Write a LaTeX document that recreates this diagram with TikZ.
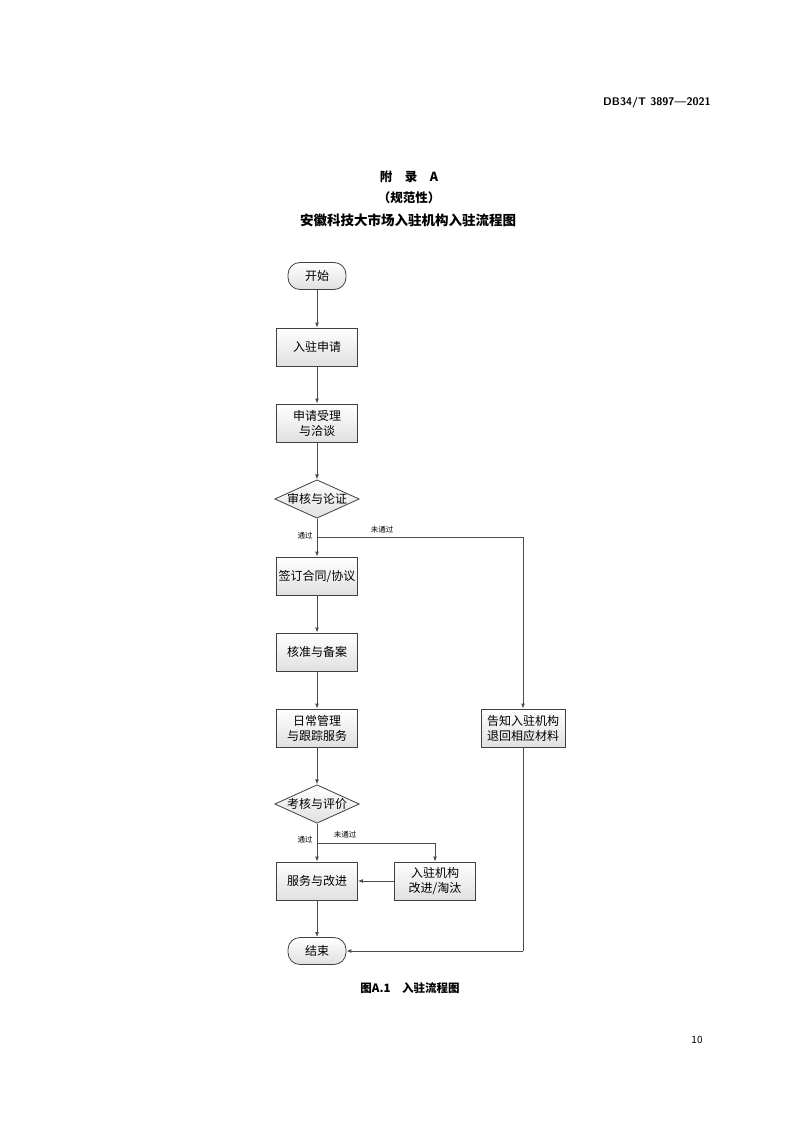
\documentclass[tikz,border=0pt]{standalone}
\usepackage{fontspec}
\setmainfont{Noto Sans CJK SC}
\usetikzlibrary{shapes.geometric,arrows.meta}
\begin{document}
\begin{tikzpicture}[x=1pt,y=-1pt,
  every node/.style={inner sep=0pt},
  box/.style={draw=black!75,line width=0.8pt,top color=white,bottom color=black!12,minimum width=81pt,minimum height=38pt,align=center,font=\fontsize{12}{15}\selectfont},
  term/.style={draw=black!75,line width=0.8pt,top color=white,bottom color=black!12,rounded corners=12pt,minimum width=58pt,minimum height=27pt,font=\fontsize{12}{15}\selectfont},
  dia/.style={draw=black!75,line width=0.8pt,diamond,aspect=2.2,top color=white,bottom color=black!12,minimum width=82pt,minimum height=37pt,font=\fontsize{12}{15}\selectfont},
  lab/.style={font=\fontsize{7.5}{9}\selectfont},
  arr/.style={draw=black!70,line width=0.9pt,-{Latex[length=5pt,width=4pt]}},
  ln/.style={draw=black!70,line width=0.9pt}]
\useasboundingbox (0,0) rectangle (794,1123);
\node[font=\sffamily\bfseries\fontsize{11}{13}\selectfont] (hdr) at (657,103) {DB34/T 3897—2021};
\node[font=\bfseries\fontsize{12.5}{14}\selectfont] (t1) at (409,177) {附　录　A};
\node[font=\bfseries\fontsize{12.5}{14}\selectfont] (t2) at (409,198) {（规范性）};
\node[font=\bfseries\fontsize{13.5}{15}\selectfont] (t3) at (408,220) {安徽科技大市场入驻机构入驻流程图};
\node[term] (start) at (317,276) {开始};
\node[box] (a) at (317,347) {入驻申请};
\node[box] (b) at (317,423) {申请受理\\与洽谈};
\node[dia] (c) at (317,499) {审核与论证};
\coordinate (j1) at (317,537);
\coordinate (j1r) at (523,537);
\node[box] (d) at (317,576) {签订合同/协议};
\node[box] (e) at (317,652) {核准与备案};
\node[box] (f) at (317,728) {日常管理\\与跟踪服务};
\node[box,minimum width=84pt] (r) at (523,728) {告知入驻机构\\退回相应材料};
\node[dia] (g) at (317,804) {考核与评价};
\coordinate (j2) at (317,843);
\coordinate (j2r) at (435,843);
\node[box] (h) at (317,881) {服务与改进};
\node[box] (k) at (435,881) {入驻机构\\改进/淘汰};
\node[term] (end) at (317,951) {结束};
\coordinate (er) at (523,951);
\draw[arr] (start) -- (a);
\draw[arr] (a) -- (b);
\draw[arr] (b) -- (c);
\draw[arr] (c) -- (d);
\draw[ln] (j1) -- (j1r);
\draw[arr] (j1r) -- (r);
\draw[arr] (d) -- (e);
\draw[arr] (e) -- (f);
\draw[arr] (f) -- (g);
\draw[arr] (g) -- (h);
\draw[ln] (j2) -- (j2r);
\draw[arr] (j2r) -- (k);
\draw[arr] (k) -- (h);
\draw[arr] (h) -- (end);
\draw[ln] (r) -- (er);
\draw[arr] (er) -- (end);
\node[lab] (l1) at (305,536) {通过};
\node[lab] (l2) at (382,530) {未通过};
\node[lab] (l3) at (305,840) {通过};
\node[lab] (l4) at (345,835) {未通过};
\node[font=\bfseries\fontsize{11.5}{13}\selectfont] (cap) at (410,988) {图A.1　入驻流程图};
\node[font=\fontsize{10}{12}\selectfont] (pg) at (697,1040) {10};
\end{tikzpicture}
\end{document}
